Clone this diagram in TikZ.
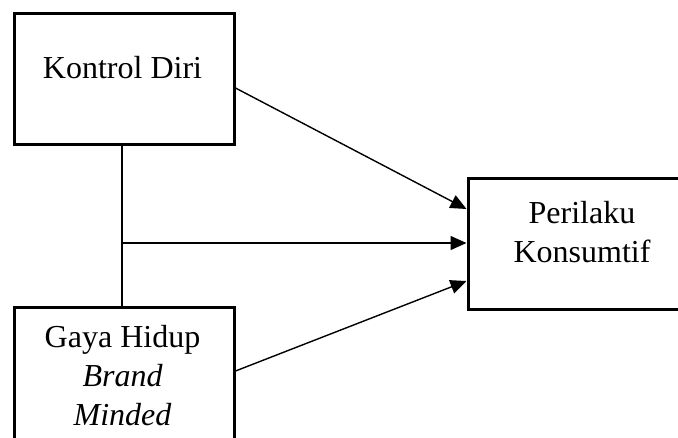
\documentclass[tikz,border=0pt]{standalone}
\usepackage{fontspec}
\setmainfont{Liberation Serif}
\usetikzlibrary{arrows.meta,calc}
\begin{document}
\begin{tikzpicture}[x=1pt,y=-1pt,
  box/.style={draw,line width=3pt,rectangle,inner sep=0pt},
  lbl/.style={inner sep=0pt,anchor=base,font=\fontsize{32}{38.5}\selectfont},
  conn/.style={line width=1.4pt},
  arr/.style={conn,-{Triangle[length=16pt,width=14pt]}}]
\useasboundingbox (0,0) rectangle (678,437);
\clip (0,0) rectangle (678,437);
\fill[white] (0,0) rectangle (678,437);
% boxes
\node[box,minimum width=220pt,minimum height=131pt] (k) at (124,78.5) {};
\node[box,minimum width=240pt,minimum height=131pt] (p) at (588,243.5) {};
\node[box,minimum width=220pt,minimum height=145pt] (g) at (124,379.5) {};
% texts
\node[lbl] (kt) at (122.5,78) {Kontrol Diri};
\node[lbl] (pt1) at (582,223) {Perilaku};
\node[lbl] (pt2) at (582,262) {Konsumtif};
\node[lbl] (gt1) at (122.5,347) {Gaya Hidup};
\node[lbl] (gt2) at (122.5,386.5) {\itshape Brand};
\node[lbl] (gt3) at (122.5,425) {\itshape Minded};
% connectors
\coordinate (m) at (122,243);
\coordinate (gs) at (g.east |- 0,371);
\draw[conn] (m |- k.south) -- (m |- g.north);
\draw[arr] (m) -- (p.west |- m);
\draw[arr] ([yshift=-9.5pt]k.east) -- ([yshift=34.5pt]p.west);
\draw[arr] (gs) -- ([yshift=-37.5pt]p.west);
\end{tikzpicture}
\end{document}
